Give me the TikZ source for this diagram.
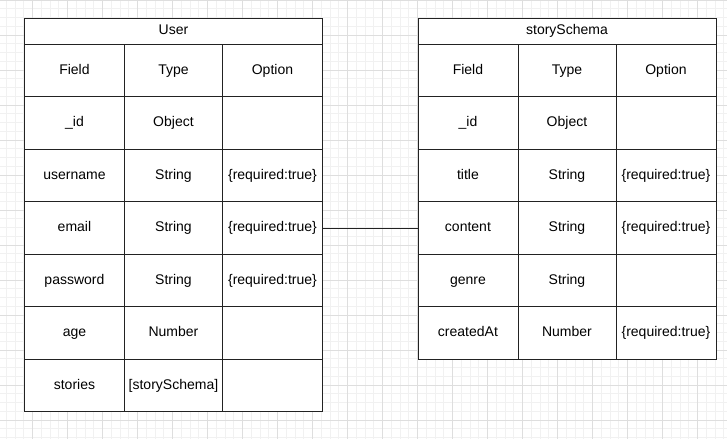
\documentclass[tikz,border=0pt]{standalone}
\usepackage{fontspec}
\setmainfont{Liberation Sans}
\definecolor{gminor}{HTML}{F1F1F1}
\definecolor{gmajor}{HTML}{DEDEDE}
\definecolor{edge}{HTML}{222222}
\newcommand\tblrow[6]{%
  \node[cell, minimum width=100pt] (#1a) at (#2,#3) {#4};
  \node[cell, minimum width=98pt] (#1b) at (#2+100,#3) {#5};
  \node[cell, minimum width=100pt] (#1c) at (#2+198,#3) {#6};
}
\begin{document}
\begin{tikzpicture}[x=1pt,y=-1pt,
  cell/.style={draw=edge, line width=0.9pt, rectangle, inner sep=0pt, anchor=north west,
    minimum height=52.5pt, font=\fontsize{14}{16}\selectfont, fill=white,
    text height=10.5pt, text depth=3pt},
  head/.style={cell, minimum width=298pt, minimum height=26.25pt},
  link/.style={draw=edge, line width=0.9pt}]
\useasboundingbox (0,0) rectangle (727,439);
\fill[white] (0,0) rectangle (727,439);
% grid
\foreach \i in {0,...,84} {
  \draw[gminor, line width=0.6pt] ({-2.7+8.75*\i},0) -- ({-2.7+8.75*\i},439);
}
\foreach \j in {0,...,51} {
  \draw[gminor, line width=0.6pt] (0,{8.75*\j}) -- (727,{8.75*\j});
}
\foreach \i in {0,...,21} {
  \draw[gmajor, line width=0.6pt] ({-2.7+35*\i},0) -- ({-2.7+35*\i},439);
}
\foreach \j in {0,...,12} {
  \draw[gmajor, line width=0.6pt] (0,{35*\j}) -- (727,{35*\j});
}
% User table
\node[head] (uh) at (24,17.5) {User};
\tblrow{uf}{24}{43.75}{Field}{Type}{Option}
\tblrow{ui}{24}{96.25}{\_id}{Object}{}
\tblrow{uu}{24}{148.75}{username}{String}{\{required:true\}}
\tblrow{ue}{24}{201.25}{email}{String}{\{required:true\}}
\tblrow{up}{24}{253.75}{password}{String}{\{required:true\}}
\tblrow{ua}{24}{306.25}{age}{Number}{}
\tblrow{us}{24}{358.75}{stories}{[storySchema]}{}
% storySchema table
\node[head] (sh) at (417.5,17.5) {storySchema};
\tblrow{sf}{417.5}{43.75}{Field}{Type}{Option}
\tblrow{si}{417.5}{96.25}{\_id}{Object}{}
\tblrow{st}{417.5}{148.75}{title}{String}{\{required:true\}}
\tblrow{sc}{417.5}{201.25}{content}{String}{\{required:true\}}
\tblrow{sg}{417.5}{253.75}{genre}{String}{}
\tblrow{sa}{417.5}{306.25}{createdAt}{Number}{\{required:true\}}
% connector
\draw[link] (uec.east) -- (sca.west);
\end{tikzpicture}
\end{document}
